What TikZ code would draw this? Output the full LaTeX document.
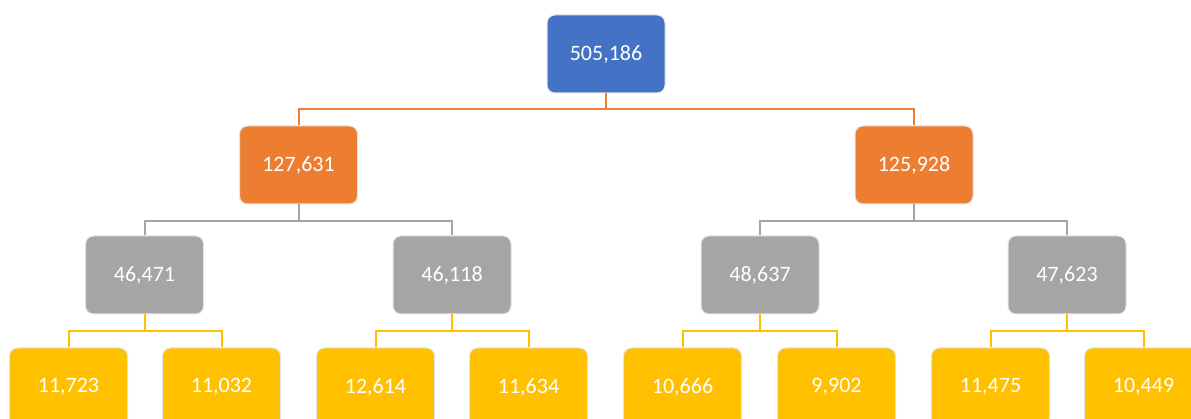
\documentclass[tikz,border=0pt]{standalone}
\usepackage{fontspec}
\setmainfont{Carlito}
\definecolor{cblue}{HTML}{4472C4}
\definecolor{corange}{HTML}{ED7D31}
\definecolor{cgray}{HTML}{A5A5A5}
\definecolor{cyellow}{HTML}{FFC000}
\definecolor{cedge}{HTML}{E4E4E4}
\begin{document}
\begin{tikzpicture}[x=1pt,y=-1pt,
  box/.style={draw=cedge, line width=1pt, rounded corners=8pt, minimum width=118pt, minimum height=78pt, inner sep=0pt, text=white, font=\fontsize{22}{26}\selectfont},
  conn/.style={line width=2pt},
]
\useasboundingbox (0,0) rectangle (1191,419);
\clip (0,0) rectangle (1191,419);
\fill[white] (0,0) rectangle (1191,419);
% root
\node[box, fill=cblue] (r) at (606,54) {505,186};
% level 1
\node[box, fill=corange] (a) at (298.5,165) {127,631};
\node[box, fill=corange] (b) at (914,165) {125,928};
% level 2
\node[box, fill=cgray] (a1) at (144.5,275) {46,471};
\node[box, fill=cgray] (a2) at (452,275) {46,118};
\node[box, fill=cgray] (b1) at (760,275) {48,637};
\node[box, fill=cgray] (b2) at (1067,275) {47,623};
% level 3
\node[box, fill=cyellow] (a11) at (68.5,387) {11,723};
\node[box, fill=cyellow] (a12) at (221.5,387) {11,032};
\node[box, fill=cyellow] (a21) at (375.5,387) {12,614};
\node[box, fill=cyellow] (a22) at (528.5,387) {11,634};
\node[box, fill=cyellow] (b11) at (682.5,387) {10,666};
\node[box, fill=cyellow] (b12) at (836.5,387) {9,902};
\node[box, fill=cyellow] (b21) at (990.5,387) {11,475};
\node[box, fill=cyellow] (b22) at (1143.5,387) {10,449};
% connectors
\draw[conn, corange] (r.south) -- ++(0,16) -| (a.north);
\draw[conn, corange] (r.south) -- ++(0,16) -| (b.north);
\draw[conn, cgray] (a.south) -- ++(0,17) -| (a1.north);
\draw[conn, cgray] (a.south) -- ++(0,17) -| (a2.north);
\draw[conn, cgray] (b.south) -- ++(0,17) -| (b1.north);
\draw[conn, cgray] (b.south) -- ++(0,17) -| (b2.north);
\draw[conn, cyellow] (a1.south) -- ++(0,17) -| (a11.north);
\draw[conn, cyellow] (a1.south) -- ++(0,17) -| (a12.north);
\draw[conn, cyellow] (a2.south) -- ++(0,17) -| (a21.north);
\draw[conn, cyellow] (a2.south) -- ++(0,17) -| (a22.north);
\draw[conn, cyellow] (b1.south) -- ++(0,17) -| (b11.north);
\draw[conn, cyellow] (b1.south) -- ++(0,17) -| (b12.north);
\draw[conn, cyellow] (b2.south) -- ++(0,17) -| (b21.north);
\draw[conn, cyellow] (b2.south) -- ++(0,17) -| (b22.north);
\end{tikzpicture}
\end{document}
